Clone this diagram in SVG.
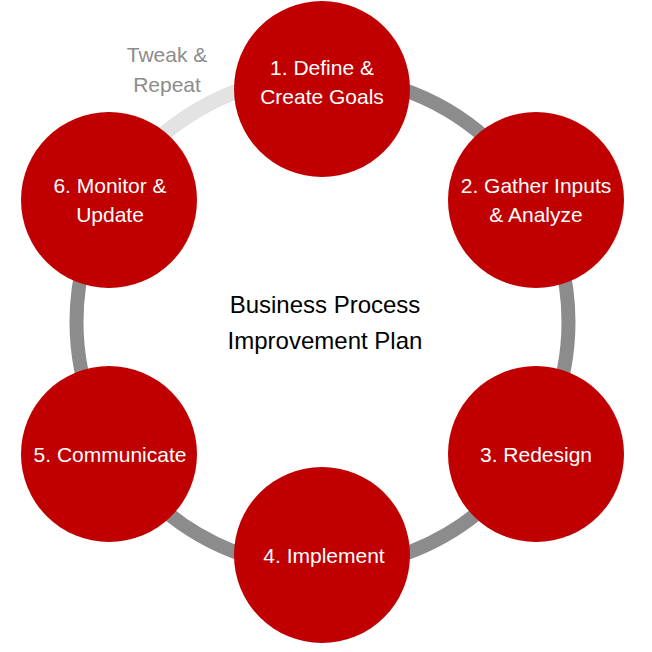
<svg xmlns="http://www.w3.org/2000/svg" width="652" height="652" viewBox="0 0 652 652">
<style>
.node{fill:#c00000}
.nt{font-family:"Liberation Sans",Arial,sans-serif;font-size:21px;fill:#ffffff;text-anchor:middle}
.title{font-family:"Liberation Sans",Arial,sans-serif;font-size:24px;fill:#000000;text-anchor:middle}
.note{font-family:"Liberation Sans",Arial,sans-serif;font-size:21px;fill:#8c8c8c;text-anchor:middle}
</style>
<rect width="652" height="652" fill="#ffffff"/>
<g id="connectors">
<circle cx="322.5" cy="322" r="246" fill="none" stroke="#8c8c8c" stroke-width="14"/>
<path d="M 322.5 76 A 246 246 0 0 0 109.5 199" fill="none" stroke="#e3e3e3" stroke-width="15"/>
</g>
<g id="label-tweak">
<text class="note" x="167" y="62">Tweak &amp;</text>
<text class="note" x="167" y="92">Repeat</text>
</g>
<g id="title">
<text class="title" x="325" y="313">Business Process</text>
<text class="title" x="325" y="349">Improvement Plan</text>
</g>
<g id="node1">
<circle class="node" cx="322" cy="89" r="88"/>
<text class="nt" x="322" y="75">1. Define &amp;</text>
<text class="nt" x="322" y="104">Create Goals</text>
</g>
<g id="node2">
<circle class="node" cx="536" cy="200" r="88"/>
<text class="nt" x="536" y="193">2. Gather Inputs</text>
<text class="nt" x="536" y="222">&amp; Analyze</text>
</g>
<g id="node3">
<circle class="node" cx="536" cy="454" r="88"/>
<text class="nt" x="536" y="462">3. Redesign</text>
</g>
<g id="node4">
<circle class="node" cx="322" cy="555" r="88"/>
<text class="nt" x="324" y="563">4. Implement</text>
</g>
<g id="node5">
<circle class="node" cx="109" cy="454" r="88"/>
<text class="nt" x="110" y="462">5. Communicate</text>
</g>
<g id="node6">
<circle class="node" cx="109" cy="200" r="88"/>
<text class="nt" x="110" y="193">6. Monitor &amp;</text>
<text class="nt" x="110" y="222">Update</text>
</g>
</svg>
